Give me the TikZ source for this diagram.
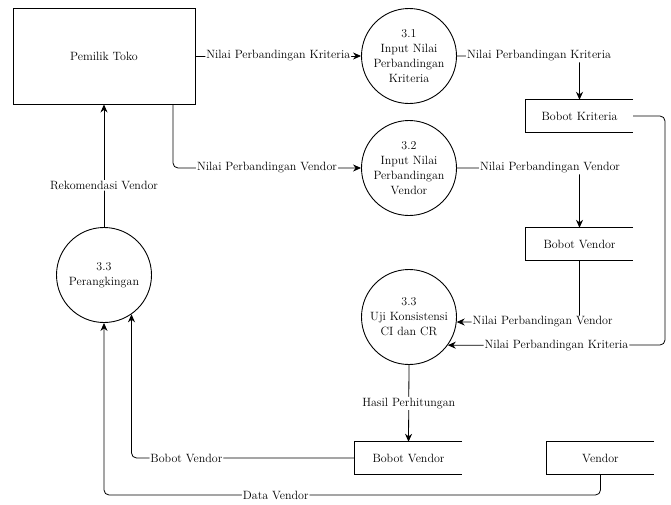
\documentclass[tikz,border=0pt]{standalone}
\usetikzlibrary{arrows.meta}
\begin{document}
\begin{tikzpicture}[x=1pt,y=-1pt,
  every node/.style={font=\fontsize{12}{15}\selectfont, text=black},
  entity/.style={draw, line width=0.9pt, minimum width=182pt, minimum height=96pt, inner sep=0pt},
  proc/.style={draw, circle, line width=0.9pt, minimum size=95pt, inner sep=0pt, align=center},
  store/.style={minimum width=107pt, minimum height=32pt, inner sep=0pt},
  flow/.style={line width=0.8pt, -{Stealth[length=8pt,width=7pt]}, rounded corners=5pt},
  lbl/.style={fill=white, inner sep=1pt}]
\useasboundingbox (0,0) rectangle (671,504);

\node[entity] (pt) at (104,56) {Pemilik Toko};
\node[proc] (c31) at (409,56) {3.1\\Input Nilai\\Perbandingan\\Kriteria};
\node[proc] (c32) at (409,168) {3.2\\Input Nilai\\Perbandingan\\Vendor};
\node[proc] (c33u) at (409,317) {3.3\\Uji Konsistensi\\CI dan CR};
\node[proc] (c33p) at (104,275) {3.3\\Perangkingan};

\node[store] (bk) at (579.5,116) {Bobot Kriteria};
\node[store] (bv1) at (579.5,244) {Bobot Vendor};
\node[store] (bv2) at (408.5,458) {Bobot Vendor};
\node[store] (vs) at (600.5,458) {Vendor};
\foreach \s in {bk,bv1,bv2,vs}
  \draw[line width=0.9pt] (\s.north east) -- (\s.north west) -- (\s.south west) -- (\s.south east);

% flows
\draw[flow] (pt.east) -- node[lbl]{Nilai Perbandingan Kriteria} (c31.west);
\coordinate (ptv) at (173,104);
\draw[flow] (ptv) |- node[lbl,pos=0.75]{Nilai Perbandingan Vendor} (c32.west);
\draw[flow] (c31.east) -| node[lbl,pos=0.335]{Nilai Perbandingan Kriteria} (bk.north);
\draw[flow] (c32.east) -| node[lbl,pos=0.38]{Nilai Perbandingan Vendor} (bv1.north);
\coordinate (k1) at (665,116);
\coordinate (k2) at (665,345);
\draw[flow] (bk.east) -- (k1) -- (k2) -- node[lbl]{Nilai Perbandingan Kriteria} (c33u.-36);
\draw[flow] (bv1.south) |- node[lbl,pos=0.65]{Nilai Perbandingan Vendor} (c33u.-6);
\draw[flow] (c33u.south) -- node[lbl]{Hasil Perhitungan} (bv2.north);
\draw[flow] (bv2.west) -| node[lbl,pos=0.377]{Bobot Vendor} (c33p.-55);
\coordinate (dv) at (104,495);
\draw[flow] (vs.south) |- node[lbl,pos=0.827]{Data Vendor} (dv) -- (c33p.south);
\draw[flow] (c33p.north) -- node[lbl,pos=0.34]{Rekomendasi Vendor} (pt.south);
\end{tikzpicture}
\end{document}
